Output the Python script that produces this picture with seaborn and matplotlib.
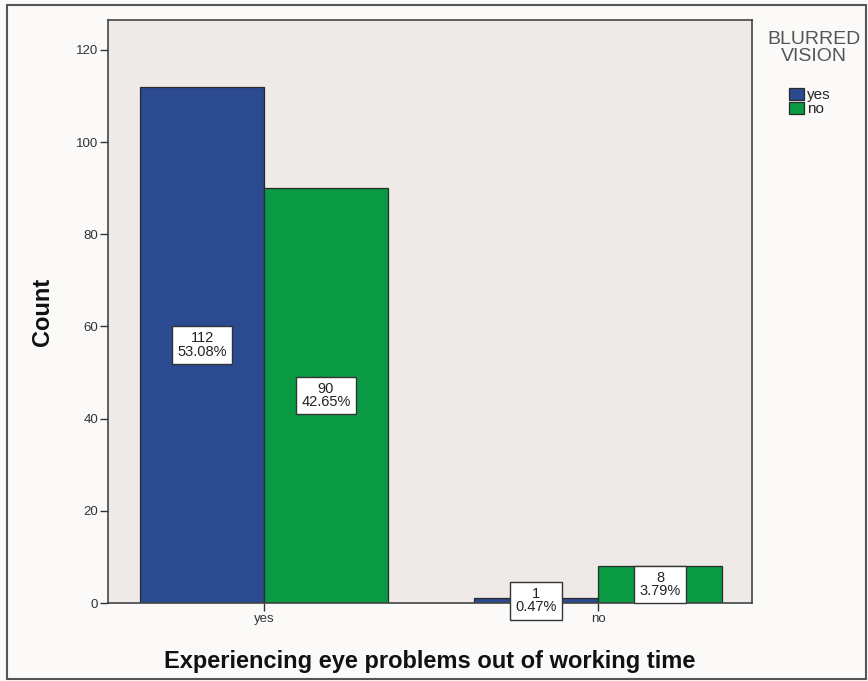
import matplotlib
matplotlib.use("Agg")
import matplotlib.pyplot as plt
from matplotlib.patches import Rectangle
import pandas as pd
import seaborn as sns

# Crosstab counts: eye problems out of working time x blurred vision
problem_categories = ["yes", "no"]
blurred_levels = ["yes", "no"]
counts_blurred_yes = [112, 1]
counts_blurred_no = [90, 8]
percent_blurred_yes = [53.08, 0.47]
percent_blurred_no = [42.65, 3.79]
y_ticks = [0, 20, 40, 60, 80, 100, 120]

rows = []
for cat, cy, cn, py, pn in zip(problem_categories, counts_blurred_yes, counts_blurred_no,
                               percent_blurred_yes, percent_blurred_no):
    rows.append({"problem": cat, "blurred": "yes", "count": cy, "pct": py})
    rows.append({"problem": cat, "blurred": "no", "count": cn, "pct": pn})
df = pd.DataFrame(rows)

sns.set_theme(style="white")
plt.rcParams["font.family"] = ["Liberation Sans", "DejaVu Sans"]

W, H = 868, 681
fig = plt.figure(figsize=(W / 100, H / 100), dpi=100)
fig.patch.set_facecolor("#fbfaf8")
ax = fig.add_axes([108 / W, 1 - 603 / H, (752 - 108) / W, (603 - 20) / H])
ax.set_facecolor("#eeeae7")

palette = {"yes": "#2b4a90", "no": "#0b9a44"}
sns.barplot(data=df, x="problem", y="count", hue="blurred",
            order=problem_categories, hue_order=blurred_levels,
            palette=palette, saturation=1, width=0.742,
            edgecolor="#2a2a2a", linewidth=0.9, ax=ax)

# count / percent labels in white boxes at mid-height of each bar
for container, lvl in zip(ax.containers, blurred_levels):
    sub = df[df["blurred"] == lvl].set_index("problem").loc[problem_categories]
    for patch, (_, r) in zip(container.patches, sub.iterrows()):
        xc = patch.get_x() + patch.get_width() / 2
        yc = patch.get_height() / 2
        ax.text(xc, yc, f"{r['count']}\n{r['pct']:.2f}%", ha="center", va="center",
                fontsize=10.5, color="#222222", linespacing=0.95,
                bbox=dict(boxstyle="square,pad=0.35", fc="white", ec="#333333", lw=1.0),
                zorder=5)

ax.set_xlim(-0.467, 1.461)
ax.set_ylim(0, 126.5)
ax.set_yticks(y_ticks)
ax.tick_params(axis="both", which="both", direction="out", length=6, width=1,
               color="#333333", labelsize=9.5, labelcolor="#333333", left=True, bottom=True, pad=1)
for s in ax.spines.values():
    s.set_color("#444444")
    s.set_linewidth(1.2)

ax.set_ylabel("Count", fontsize=17, fontweight="bold", labelpad=16, color="#111111")
ax.set_xlabel("Experiencing eye problems out of working time", fontsize=17,
              fontweight="bold", labelpad=18, color="#111111")

handles, labels = ax.get_legend_handles_labels()
ax.get_legend().remove()
fig.text(814 / W, 1 - 31 / H, "BLURRED\nVISION", ha="center", va="top",
         fontsize=14, color="#555555", linespacing=1.0, multialignment="center")
fig.legend(handles, labels, loc="upper left",
           bbox_to_anchor=(781 / W, 1 - 80 / H), frameon=False,
           fontsize=11, handlelength=1.0, handleheight=0.85,
           handletextpad=0.2, labelspacing=0.0, borderpad=0)

# outer frame around the whole graphic
fig.patches.append(Rectangle((7 / W, 2 / H), (866 - 7) / W, (676 - 2) / H,
                             transform=fig.transFigure, fill=False,
                             ec="#555555", lw=1.5))

fig.savefig("out.png", dpi=100, facecolor=fig.get_facecolor())
